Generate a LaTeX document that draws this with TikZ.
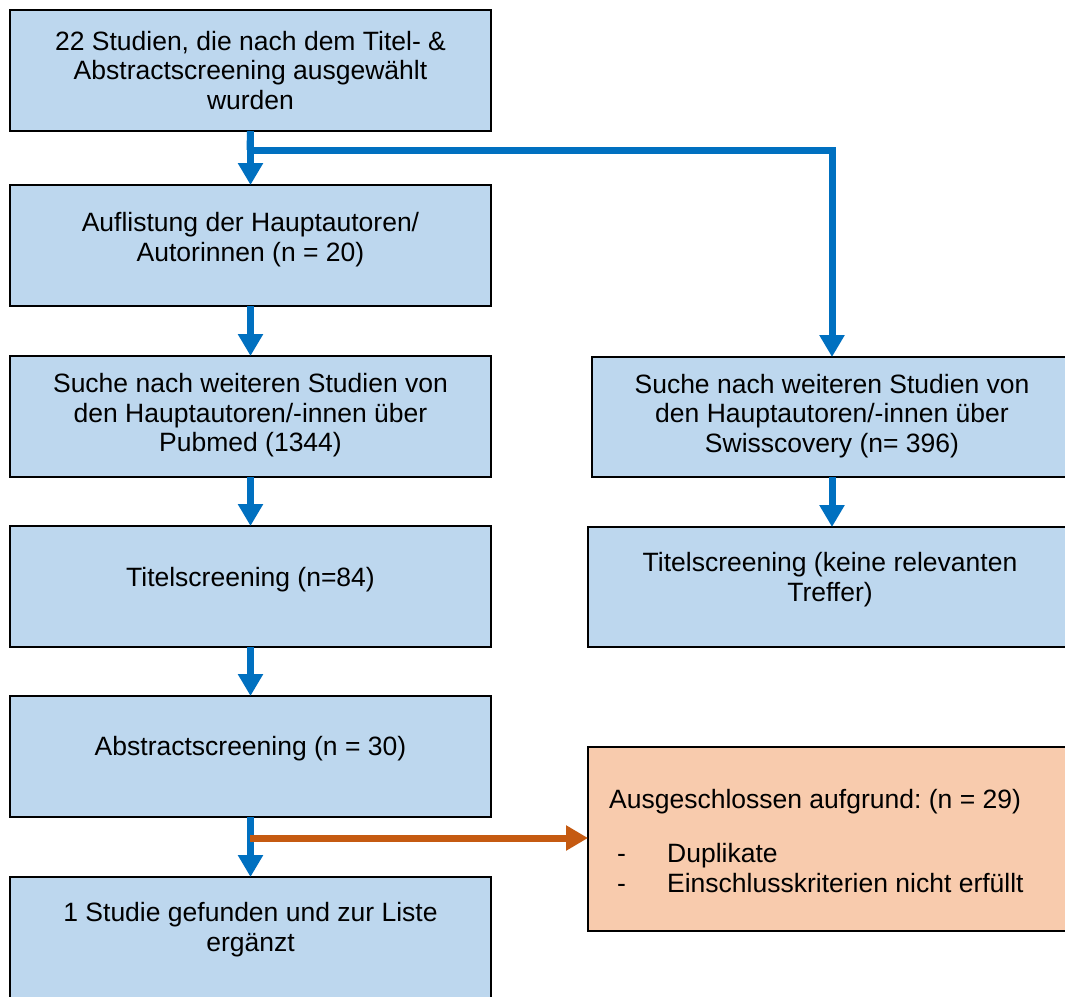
\documentclass[tikz,border=0pt]{standalone}
\usepackage{fontspec}
\setmainfont{Liberation Sans}
\usetikzlibrary{arrows.meta}
\frenchspacing
\definecolor{boxblue}{HTML}{BDD7EE}
\definecolor{boxorange}{HTML}{F8CBAD}
\definecolor{arrblue}{HTML}{0070C0}
\definecolor{arrorange}{HTML}{C55A11}
\tikzset{
  box/.style={draw=black, line width=2pt, fill=boxblue, rectangle, inner sep=0pt, outer sep=0pt},
  obox/.style={box, fill=boxorange},
  txt/.style={align=center, inner sep=0pt, font=\fontsize{26.5}{29.5}\selectfont\frenchspacing},
  flow/.style={draw=arrblue, line width=7pt, -{Triangle[width=24pt,length=22pt]}},
  oflow/.style={draw=arrorange, line width=7pt, -{Triangle[width=24pt,length=22pt]}},
}
\begin{document}
\begin{tikzpicture}[x=1pt,y=-1pt]
\useasboundingbox (0,0) rectangle (1065,996);
\clip (0,0) rectangle (1065,996);
\fill[white] (0,0) rectangle (1065,996);
% left column boxes
\node[box, minimum width=481pt, minimum height=121pt] (b1) at (250.5,70.5) {};
\node[box, minimum width=481pt, minimum height=121pt] (b2) at (250.5,245.5) {};
\node[box, minimum width=481pt, minimum height=121pt] (b3) at (250.5,416.5) {};
\node[box, minimum width=481pt, minimum height=121pt] (b4) at (250.5,586.5) {};
\node[box, minimum width=481pt, minimum height=121pt] (b5) at (250.5,756.5) {};
\node[box, minimum width=481pt, minimum height=140pt] (b6) at (250.5,947) {};
% right column boxes
\node[box, minimum width=480pt, minimum height=120pt] (r1) at (832,417) {};
\node[box, minimum width=486pt, minimum height=120pt] (r2) at (831,587) {};
\node[obox, minimum width=486pt, minimum height=184pt] (ex) at (831,839) {};
% texts
\node[txt] (t1) at (250.5,70.5) {22 Studien, die nach dem Titel- \&\\Abstractscreening ausgewählt\\wurden};
\node[txt] (t2) at (250.5,239.5) {Auflistung der Hauptautoren/\\Autorinnen (n = 20)};
\node[txt] (t3) at (250.5,415.5) {Suche nach weiteren Studien von\\den Hauptautoren/-innen über\\Pubmed (1344)};
\node[txt] (t4) at (250.5,579.5) {Titelscreening (n=84)};
\node[txt] (t5) at (250.5,748.5) {Abstractscreening (n = 30)};
\node[txt] (t6) at (250.5,929.5) {1 Studie gefunden und zur Liste\\ergänzt};
\node[txt] (tr1) at (832,416) {Suche nach weiteren Studien von\\den Hauptautoren/-innen über\\Swisscovery (n= 396)};
\node[txt] (tr2) at (830,579.5) {Titelscreening (keine relevanten\\Treffer)};
\node[txt, anchor=west] (te1) at (609,802) {Ausgeschlossen aufgrund: (n = 29)};
\node[txt, anchor=west, align=left] (te2) at (617,868) {\makebox[50pt][l]{-}Duplikate\\\makebox[50pt][l]{-}Einschlusskriterien nicht erfüllt};
% connectors
\coordinate (split) at (250,150);
\coordinate (split2) at (250,838);
\draw[flow] (b1.south) -- (b2.north);
\draw[draw=arrblue, line width=7pt] (b1.south) -- (split);
\draw[flow] (split) -| (r1.north);
\draw[flow] (b2.south) -- (b3.north);
\draw[flow] (b3.south) -- (b4.north);
\draw[flow] (b4.south) -- (b5.north);
\draw[flow] (b5.south) -- (b6.north);
\draw[flow] (r1.south) -- (r1.south |- r2.north);
\draw[oflow] (split2) -- (split2 -| ex.west);
\end{tikzpicture}
\end{document}
